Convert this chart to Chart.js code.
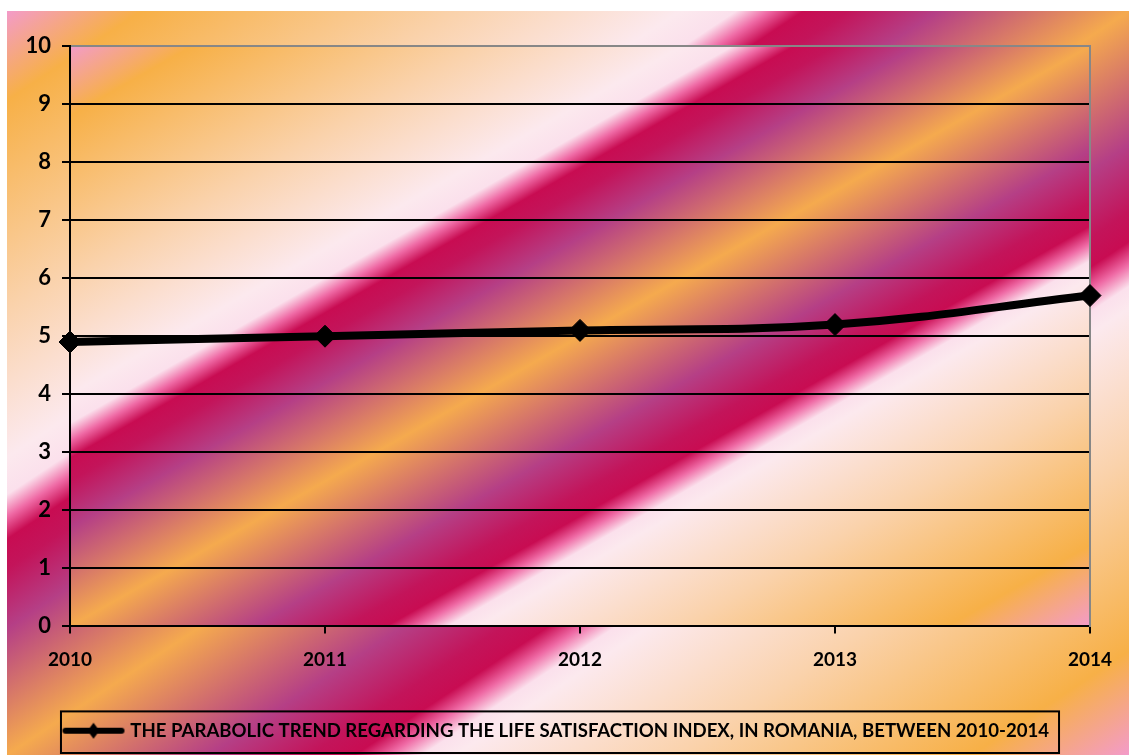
<!DOCTYPE html>
<html>
<head>
<meta charset="utf-8">
<script src="https://cdn.jsdelivr.net/npm/chart.js@4.4.1/dist/chart.umd.min.js"></script>
<style>
  html, body { margin: 0; padding: 0; background: #fff; }
  #wrap { width: 1129px; height: 755px; }
</style>
</head>
<body>
<div id="wrap"><canvas id="chartCanvas" width="1129" height="755"></canvas></div>
<script>
// data
const years = ['2010', '2011', '2012', '2013', '2014'];
const lifeSatisfaction = [4.9, 5.0, 5.1, 5.2, 5.7];
const seriesLabel = 'THE PARABOLIC TREND REGARDING THE LIFE SATISFACTION INDEX, IN ROMANIA, BETWEEN 2010-2014';
const yMin = 0;
const yMax = 10;
const yStep = 1;

// diagonal stripes of the background fill (position along the diagonal, colour)
const fillStops = [
    [0.00, '#f39bc9'],
    [0.06, '#f7b047'],
    [0.20, '#fad2ab'],
    [0.30, '#fce9ee'],
    [0.325, '#fbe0ec'],
    [0.34, '#ef6aa5'],
    [0.355, '#c80c52'],
    [0.375, '#c3145a'],
    [0.415, '#b53f86'],
    [0.50, '#f5aa4e'],
    [0.59, '#b53f86'],
    [0.635, '#c3145a'],
    [0.655, '#c80c52'],
    [0.67, '#ef6aa5'],
    [0.685, '#fbe0ec'],
    [0.70, '#fce9ee'],
    [0.80, '#fad2ab'],
    [0.93, '#f7b047'],
    [1.00, '#f39bc9']
];

function paintStripes(ctx, x, y, w, h) {
    ctx.save();
    ctx.translate(x, y);
    ctx.scale(w, h);
    const g = ctx.createLinearGradient(0, 0, 1, 1);
    fillStops.forEach(s => g.addColorStop(s[0], s[1]));
    ctx.fillStyle = g;
    ctx.fillRect(0, 0, 1, 1);
    ctx.restore();
}

const backdrop = {
    id: 'backdrop',
    beforeDraw(chart) {
        const { ctx, width, height, chartArea: a } = chart;
        ctx.save();
        ctx.fillStyle = '#fff';
        ctx.fillRect(0, 0, width, height);
        paintStripes(ctx, 7, 11, width - 7, height - 11);
        paintStripes(ctx, a.left, a.top, a.right - a.left, a.bottom - a.top);
        ctx.restore();
    }
};

const legendFrame = {
    id: 'legendFrame',
    afterDraw(chart) {
        const hb = chart.legend.legendHitBoxes[0];
        if (!hb) return;
        const ctx = chart.ctx;
        ctx.save();
        ctx.strokeStyle = '#000';
        ctx.lineWidth = 2;
        ctx.strokeRect(hb.left - 5, hb.top - 10, hb.width + 15, hb.height + 23);
        ctx.restore();
    }
};

function legendSymbol() {
    const c = document.createElement('canvas');
    c.width = 64;
    c.height = 20;
    const g = c.getContext('2d');
    g.strokeStyle = '#000';
    g.lineWidth = 6;
    g.lineCap = 'round';
    g.beginPath();
    g.moveTo(4, 10);
    g.lineTo(60, 10);
    g.stroke();
    g.fillStyle = '#000';
    g.beginPath();
    g.moveTo(32, 2);
    g.lineTo(38, 10);
    g.lineTo(32, 18);
    g.lineTo(26, 10);
    g.closePath();
    g.fill();
    return c;
}

const boldFont = size => ({ family: 'Lato', weight: 'bold', size: size });

const ctx = document.getElementById('chartCanvas');

new Chart(ctx, {
    type: 'line',
    data: {
        labels: years,
        datasets: [{
            label: seriesLabel,
            data: lifeSatisfaction,
            borderColor: '#000',
            borderWidth: 8,
            borderJoinStyle: 'round',
            borderCapStyle: 'round',
            tension: 0.4,
            fill: false,
            pointStyle: 'rectRot',
            pointRadius: 11,
            pointBackgroundColor: '#000',
            pointBorderColor: '#000',
            pointBorderWidth: 1,
            clip: false
        }]
    },
    options: {
        responsive: false,
        devicePixelRatio: 1,
        animation: false,
        layout: { padding: { top: 46, right: 14, bottom: 5, left: 0 } },
        plugins: {
            tooltip: { enabled: false },
            legend: {
                position: 'bottom',
                labels: {
                    color: '#000',
                    font: boldFont(18.6),
                    usePointStyle: true,
                    pointStyle: legendSymbol(),
                    pointStyleWidth: 55,
                    boxHeight: 18,
                    padding: 10
                }
            }
        },
        scales: {
            x: {
                type: 'category',
                offset: false,
                border: { color: '#000', width: 2 },
                grid: { drawOnChartArea: false, drawTicks: true, tickLength: 7, color: '#000', lineWidth: 2 },
                ticks: { color: '#000', font: boldFont(19), padding: 15, maxRotation: 0, autoSkip: false },
                afterFit: s => { s.height = 85; }
            },
            y: {
                min: yMin,
                max: yMax,
                border: { color: '#000', width: 2 },
                grid: {
                    color: c => (c.tick && c.tick.value === yMax ? '#878787' : '#000'),
                    tickColor: '#000',
                    lineWidth: 2,
                    tickLength: 8
                },
                ticks: { stepSize: yStep, color: '#000', font: boldFont(22), padding: 11 },
                afterFit: s => { s.width = 70; }
            },
            y2: {
                position: 'right',
                display: true,
                border: { color: '#878787', width: 2 },
                grid: { display: false },
                ticks: { display: false },
                afterFit: s => { s.width = 25; }
            }
        }
    },
    plugins: [backdrop, legendFrame]
});
</script>
</body>
</html>
